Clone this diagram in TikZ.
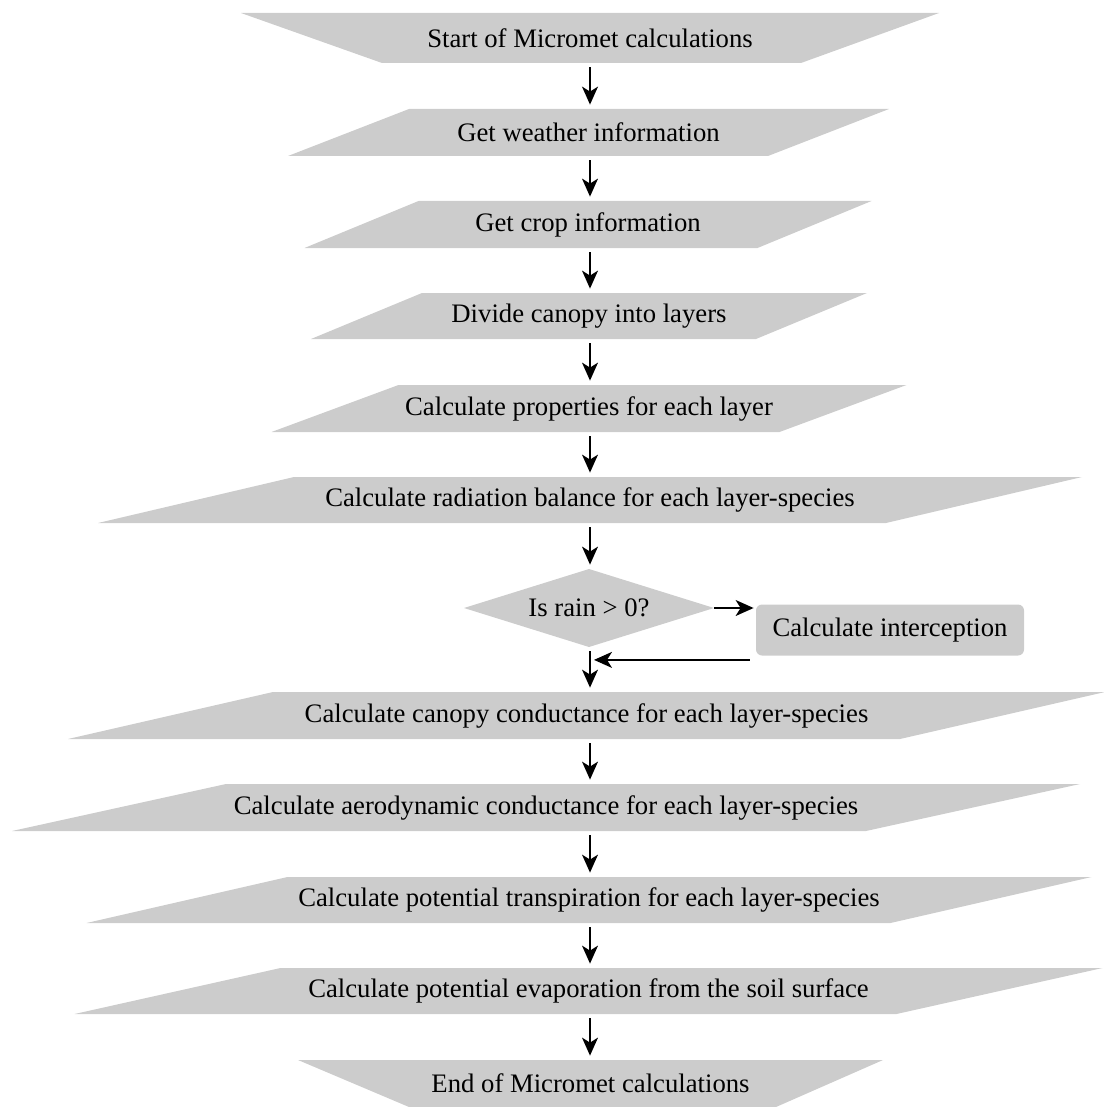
\documentclass[tikz,border=0pt]{standalone}
\usepackage{fontspec}
\setmainfont{Liberation Serif}
\usetikzlibrary{arrows.meta,calc}
\definecolor{boxgray}{RGB}{204,204,204}
\tikzset{
  txt/.style={inner sep=0pt, font=\fontsize{13.35}{16}\selectfont},
  arr/.style={draw=black, line width=0.7pt, -{Stealth[length=9pt,width=8pt,inset=2.5pt]}, shorten <=2pt, shorten >=2pt},
  shapefill/.style={fill=boxgray},
}
% #1 name, #2 cx, #3 cy, #4 half width, #5 half slant, #6 half height, #7 text
\newcommand\pgram[7]{%
  \fill[shapefill] ({#2-#4+#5},{#3-#6}) -- ({#2+#4+#5},{#3-#6}) -- ({#2+#4-#5},{#3+#6}) -- ({#2-#4-#5},{#3+#6}) -- cycle;
  \node[txt, minimum height={#6*1pt}] (#1) at (#2,#3) {#7};
}
\begin{document}
\begin{tikzpicture}[x=0.5pt,y=-0.5pt]
\useasboundingbox (0,0) rectangle (1103,1107);
\coordinate (axis) at (590,0);

% start (trapezoid)
\fill[shapefill] (241,13) -- (939,13) -- (801,63) -- (382,63) -- cycle;
\node[txt, minimum height=25pt] (start) at (590,38) {Start of Micromet calculations};

\pgram{gw}{588.5}{132.5}{240}{60.5}{23.5}{Get weather information}
\pgram{crop}{588}{224.5}{226.5}{57}{23.5}{Get crop information}
\pgram{divide}{589}{316}{222.5}{55.5}{23}{Divide canopy into layers}
\pgram{props}{589}{408.5}{254}{63.5}{23.5}{Calculate properties for each layer}
\pgram{rad}{590}{500}{394}{98}{23}{Calculate radiation balance for each layer-species}

% decision
\fill[shapefill] (464,608) -- (589,569) -- (714,608) -- (589,647) -- cycle;
\node[txt, minimum width=125pt, minimum height=39pt] (rain) at (589,608) {Is rain > 0?};

\node[txt, fill=boxgray, rounded corners=3pt, minimum width=134pt, minimum height=25.5pt] (int) at (890,630) {Calculate interception};

\pgram{canopy}{586.5}{715.5}{416}{102.5}{23.5}{Calculate canopy conductance for each layer-species}
\pgram{aero}{546}{807.5}{427}{107}{23.5}{Calculate aerodynamic conductance for each layer-species}
\pgram{trans}{589}{900}{402}{100.5}{23}{Calculate potential transpiration for each layer-species}
\pgram{evap}{588.5}{991}{411}{103}{23}{Calculate potential evaporation from the soil surface}

% end (trapezoid)
\fill[shapefill] (298,1060) -- (883,1060) -- (776,1107) -- (409,1107) -- cycle;
\node[txt, minimum height=23.5pt] (end) at (590.5,1083.5) {End of Micromet calculations};

% connectors
\draw[arr] (start.south -| axis) -- (gw.north -| axis);
\draw[arr] (gw.south -| axis) -- (crop.north -| axis);
\draw[arr] (crop.south -| axis) -- (divide.north -| axis);
\draw[arr] (divide.south -| axis) -- (props.north -| axis);
\draw[arr] (props.south -| axis) -- (rad.north -| axis);
\draw[arr] (rad.south -| axis) -- (rain.north -| axis);
\draw[arr, shorten <=0pt, shorten >=1pt] (rain.east) -- (rain.east -| int.west);
\coordinate (bk) at ([shift={(-3pt,-2pt)}]int.south west);
\draw[arr, shorten <=0pt, shorten >=2.5pt] (bk) -- (bk -| rain.south);
\draw[arr] (rain.south -| axis) -- (canopy.north -| axis);
\draw[arr] (canopy.south -| axis) -- (aero.north -| axis);
\draw[arr] (aero.south -| axis) -- (trans.north -| axis);
\draw[arr] (trans.south -| axis) -- (evap.north -| axis);
\draw[arr] (evap.south -| axis) -- (end.north -| axis);
\end{tikzpicture}
\end{document}
